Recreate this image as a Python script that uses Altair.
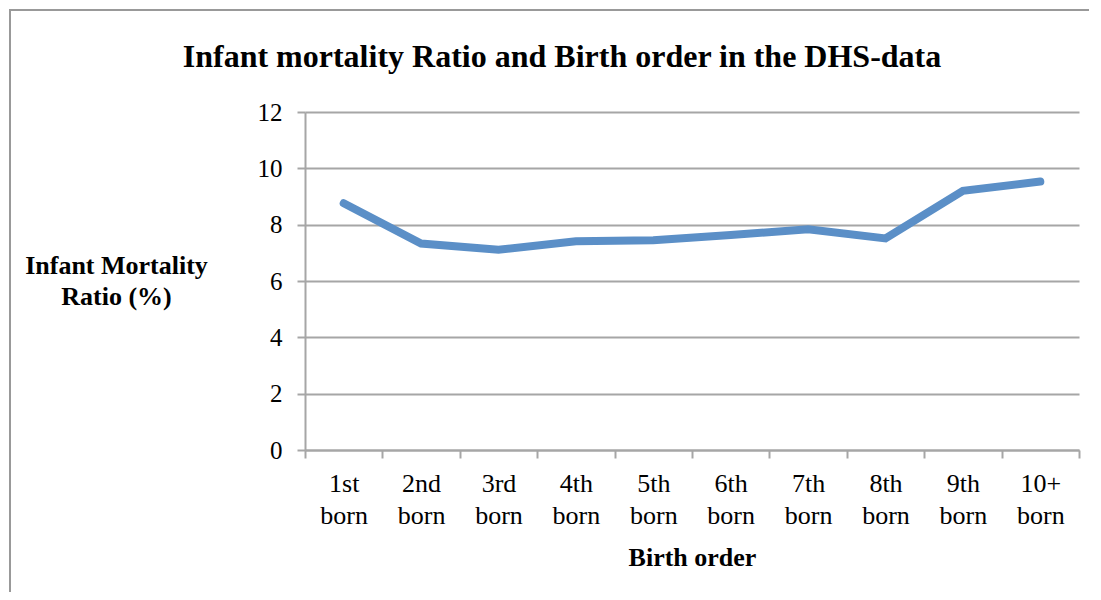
import altair as alt
import pandas as pd

categories = ["1st born", "2nd born", "3rd born", "4th born", "5th born",
              "6th born", "7th born", "8th born", "9th born", "10+ born"]
values = [8.76, 7.33, 7.11, 7.41, 7.45, 7.63, 7.84, 7.51, 9.20, 9.53]
y_ticks = [0, 2, 4, 6, 8, 10, 12]
title_text = ["Infant mortality Ratio and Birth order in the DHS-data"]

df = pd.DataFrame({"order": categories, "ratio": values})
df_title = pd.DataFrame({"t": title_text})

FONT = "Liberation Serif"
GRID = "#a6a6a6"

line = alt.Chart(df).mark_line(
    color="#5b8fc7", strokeWidth=8, strokeCap="round", strokeJoin="miter"
).encode(
    x=alt.X("order:N", sort=categories, title="Birth order",
            scale=alt.Scale(paddingInner=0, paddingOuter=0),
            axis=alt.Axis(labelExpr="split(datum.label, ' ')", labelAngle=0,
                          labelFont=FONT, labelFontSize=26, labelColor="black",
                          labelLineHeight=32, labelPadding=12,
                          tickBand="extent", tickColor=GRID, tickWidth=2, tickSize=8,
                          domainColor=GRID, domainWidth=2, grid=False,
                          titleFont=FONT, titleFontSize=26, titleFontWeight="bold",
                          titleColor="black", titlePadding=16)),
    y=alt.Y("ratio:Q", scale=alt.Scale(domain=[0, 12], nice=False),
            title=["Infant Mortality", "Ratio (%)"],
            axis=alt.Axis(values=y_ticks, labelFont=FONT, labelFontSize=25,
                          labelColor="black", labelPadding=15,
                          tickColor=GRID, tickWidth=2, tickSize=8,
                          domainColor=GRID, domainWidth=2,
                          gridColor=GRID, gridWidth=2,
                          titleFont=FONT, titleFontSize=26, titleFontWeight="bold",
                          titleColor="black", titleAngle=0, titleAlign="center",
                          titleBaseline="alphabetic", titleLineHeight=31,
                          titleX=-189, titleY=161)),
)

border = alt.Chart(df).mark_rect(
    fill=None, stroke="#999999", strokeWidth=2, clip=False
).encode(
    x=alt.value(-295), x2=alt.value(900), y=alt.value(-102), y2=alt.value(700)
)

title = alt.Chart(df_title).mark_text(
    font=FONT, fontSize=32, fontWeight="bold", color="black",
    align="center", baseline="alphabetic"
).encode(
    text="t:N", x=alt.value(257), y=alt.value(-45)
)

chart = alt.layer(border, line, title).properties(
    width=774, height=338,
    padding={"left": 297, "top": 104, "right": 10, "bottom": 142},
    autosize=alt.AutoSizeParams(type="none"),
).configure_view(stroke=None)

chart.save("out.html", embed_options={"renderer": "svg", "actions": False})
